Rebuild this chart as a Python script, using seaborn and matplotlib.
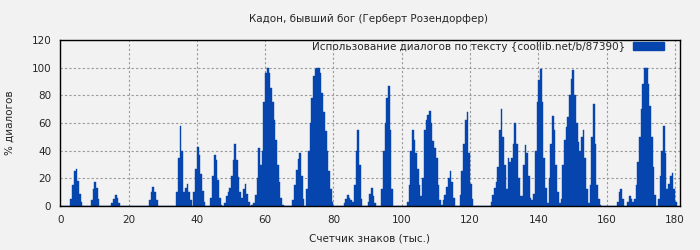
import numpy as np
import pandas as pd
import matplotlib
matplotlib.use("Agg")
import matplotlib.pyplot as plt
import seaborn as sns
from matplotlib.patches import Patch

# share of dialogue per 500 characters
char_k = np.arange(0, 181, 0.5)  # thousand characters
dialog_pct = [
    0, 0, 0, 0, 0, 0, 5, 15, 25, 27,          # 0
    18, 9, 3, 0, 0, 0, 0, 0, 4, 12,           # 5
    17, 13, 5, 0, 0, 0, 0, 0, 0, 0,           # 10
    2, 5, 8, 6, 2, 0, 0, 0, 0, 0,             # 15
    0, 0, 0, 0, 0, 0, 0, 0, 0, 0,             # 20
    0, 0, 4, 10, 14, 10, 4, 0, 0, 0,          # 25
    0, 0, 0, 0, 0, 0, 0, 0, 10, 35,           # 30
    58, 40, 10, 13, 16, 10, 4, 0, 10, 27,     # 35
    43, 37, 23, 11, 3, 0, 0, 0, 6, 22,        # 40
    37, 33, 19, 6, 1, 0, 2, 7, 10, 13,        # 45
    22, 33, 45, 33, 21, 10, 6, 12, 16, 9,     # 50
    3, 0, 1, 2, 8, 20, 42, 30, 40, 75,        # 55
    96, 100, 96, 85, 75, 62, 48, 30, 17, 6,   # 60
    1, 0, 0, 0, 0, 0, 4, 15, 26, 34,          # 65
    38, 22, 5, 0, 12, 40, 60, 78, 94, 99,     # 70
    100, 100, 96, 82, 68, 54, 40, 25, 12, 3,  # 75
    0, 0, 0, 0, 0, 0, 2, 5, 8, 6,             # 80
    4, 3, 15, 40, 55, 30, 5, 0, 0, 0,         # 85
    3, 9, 13, 7, 2, 0, 0, 0, 12, 40,          # 90
    60, 78, 87, 55, 12, 0, 0, 0, 0, 0,        # 95
    0, 0, 0, 3, 15, 40, 55, 48, 38, 27,       # 100
    15, 7, 20, 55, 62, 66, 69, 60, 47, 42,    # 105
    35, 15, 4, 1, 4, 8, 14, 20, 25, 17,       # 110
    6, 0, 0, 0, 8, 25, 45, 62, 68, 38,        # 115
    16, 5, 0, 0, 0, 0, 0, 0, 0, 0,            # 120
    0, 0, 3, 8, 13, 17, 28, 55, 70, 50,       # 125
    30, 12, 35, 32, 35, 45, 60, 45, 20, 7,    # 130
    7, 30, 44, 38, 22, 6, 4, 9, 40, 75,       # 135
    91, 99, 75, 35, 13, 2, 20, 45, 65, 55,    # 140
    30, 10, 2, 5, 30, 48, 57, 64, 80, 92,     # 145
    98, 80, 60, 46, 40, 50, 55, 35, 12, 2,    # 150
    15, 50, 74, 45, 15, 5, 1, 0, 0, 0,        # 155
    0, 0, 0, 0, 0, 0, 3, 10, 12, 5,           # 160
    0, 0, 3, 7, 5, 3, 5, 15, 32, 50,          # 165
    70, 88, 100, 100, 88, 72, 50, 28, 8, 0,   # 170
    5, 22, 40, 58, 38, 12, 16, 22, 24, 12,    # 175
    3, 0,                                     # 180
]
x_ticks = [0, 20, 40, 60, 80, 100, 120, 140, 160, 180]
y_ticks = [0, 20, 40, 60, 80, 100, 120]

title = "Кадон, бывший бог (Герберт Розендорфер)"
legend_label = "Использование диалогов по тексту {coollib.net/b/87390}"
bar_color = "#0645ad"
bg = "#f2f2f2"


def main():
    sns.set_style("white")
    plt.rcParams["font.family"] = ["DejaVu Sans"]

    df = pd.DataFrame({"k": char_k, "pct": dialog_pct})

    fig = plt.figure(figsize=(7, 2.5), dpi=100, facecolor=bg)
    ax = fig.add_axes([0.086, 0.176, 0.885, 0.664])
    ax.set_facecolor(bg)

    sns.histplot(data=df, x="k", weights="pct", binwidth=0.5, binrange=(0, 181),
                 color=bar_color, alpha=1, edgecolor=bar_color, linewidth=0.3, ax=ax)

    ax.set_xlim(0, 181.4)
    ax.set_ylim(0, 120)
    ax.set_xticks(x_ticks)
    ax.set_yticks(y_ticks)
    ax.tick_params(labelsize=7.5, length=3, color="black")
    ax.grid(True, color="#999999", linestyle=(0, (2, 2)), linewidth=0.8)
    ax.set_axisbelow(True)
    for s in ax.spines.values():
        s.set_color("black")
        s.set_linewidth(1)

    ax.set_xlabel("Счетчик знаков (тыс.)", fontsize=7.5, labelpad=6)
    ax.set_ylabel("% диалогов", fontsize=7.5, labelpad=12)
    fig.text(0.527, 0.925, title, ha="center", va="center", fontsize=7.5)

    handle = Patch(color=bar_color, label=legend_label)
    ax.legend(handles=[handle], loc="upper right", frameon=False, fontsize=7.5,
              markerfirst=False, handlelength=3.0, handleheight=0.7,
              bbox_to_anchor=(0.982, 1.015), borderaxespad=0, handletextpad=0.8)

    fig.savefig("out.png", dpi=100, facecolor=bg)
    plt.close(fig)


if __name__ == "__main__":
    main()
